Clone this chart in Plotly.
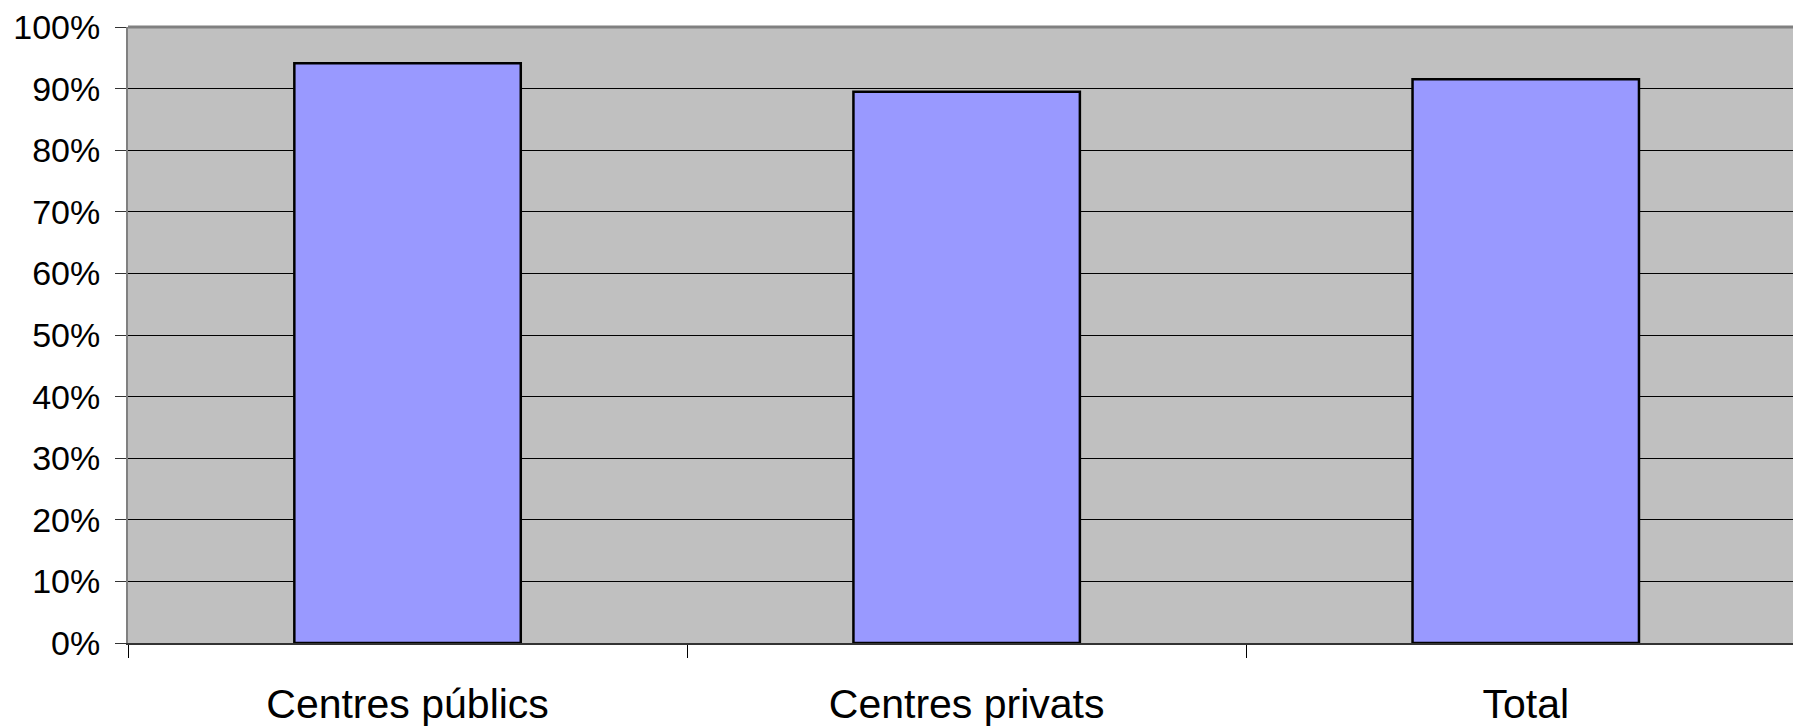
import plotly.graph_objects as go

categories = ["Centres públics", "Centres privats", "Total"]
values = [0.941, 0.895, 0.915]
y_ticks = [0, 0.1, 0.2, 0.3, 0.4, 0.5, 0.6, 0.7, 0.8, 0.9, 1.0]

fig = go.Figure()
fig.add_trace(go.Bar(
    x=categories, y=values, width=0.405,
    marker=dict(color="#9999FF", line=dict(color="black", width=2.5)),
))

fig.update_layout(
    width=1793, height=727,
    margin=dict(l=128, r=0, t=27, b=84),
    paper_bgcolor="white", plot_bgcolor="#C0C0C0",
    showlegend=False,
    font=dict(family="Liberation Sans, Arial, sans-serif", color="black"),
    xaxis=dict(
        range=[-0.5, 2.478],
        showline=True, linecolor="#333333", linewidth=2,
        ticks="outside", tickson="boundaries", ticklen=13, tickcolor="black", tickwidth=1,
        tickfont=dict(size=41), showgrid=False,
        ticklabelstandoff=24, automargin=False,
    ),
    yaxis=dict(
        range=[0, 1], tickvals=y_ticks, tickformat=".0%",
        showline=True, linecolor="#808080", linewidth=2,
        ticks="outside", ticklen=11, tickcolor="#333333", tickwidth=1,
        tickfont=dict(size=34),
        showgrid=True, gridcolor="black", gridwidth=1, zeroline=False,
        ticklabelstandoff=8, automargin=False,
    ),
    shapes=[dict(type="line", xref="paper", yref="paper", x0=0, x1=1, y0=1, y1=1,
                 line=dict(color="#808080", width=3))],
)

fig.write_html(
    "out.html",
    config={"displayModeBar": False},
    post_script="document.body.style.margin='0';document.body.style.overflow='hidden';",
)
